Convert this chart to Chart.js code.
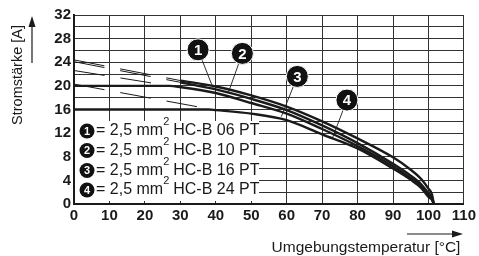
<!DOCTYPE html>
<html lang="de">
<head>
<meta charset="UTF-8">
<title>Derating</title>
<script src="https://cdn.jsdelivr.net/npm/chart.js"></script>
<style>
    body { margin: 0; background: #fff; }
    .chart-container { width: 479px; height: 256px; position: relative; }
</style>
</head>
<body>
<div class="chart-container">
    <canvas id="deratingChart"></canvas>
</div>
<script>
    // solid derating curves (temperature in °C, current in A)
    const curveX = [30, 40, 50, 60, 70, 80, 90, 95, 98, 100, 101, 101.5];
    const curve1 = [20.9, 19.9, 18.4, 16.5, 14.0, 11.1, 7.9, 5.8, 4.2, 2.6, 1.6, 0];
    const curve2 = [20.6, 19.4, 17.8, 15.9, 13.3, 10.3, 6.8, 4.8, 3.3, 1.8, 1.1, 0];
    const curve3X = [0, 27, 30, 40, 50, 60, 70, 80, 90, 95, 98, 100, 101, 101.5];
    const curve3 = [20, 20, 19.8, 18.8, 17.1, 15.3, 12.7, 9.8, 6.4, 4.4, 3.0, 1.5, 0.9, 0];
    const curve4X = [0, 38, 40, 50, 60, 70, 80, 90, 95, 98, 100, 101, 101.5];
    const curve4 = [16, 16, 15.9, 15.3, 14.2, 11.8, 9.4, 6.0, 4.1, 2.7, 1.2, 0.7, 0];

    // dashed extensions on the left
    const dash12X = [0, 30];
    const dash1 = [24.4, 20.9];
    const dash2 = [24.1, 20.6];
    const dash3X = [0, 27];
    const dash3 = [22.6, 20.0];
    const dash4X = [0, 40];
    const dash4 = [20.3, 15.9];

    // numbered markers and their leader lines
    const markerX = [35, 47.5, 63, 77];
    const markerY = [26.1, 25.5, 21.6, 17.6];
    const leaderEndX = [39.2, 43.5, 58.5, 72.8];
    const leaderEndY = [19.7, 18.8, 14.8, 11.0];

    const legendPrefix = '= 2,5 mm';
    const legendLabels = ['HC-B 06 PT', 'HC-B 10 PT', 'HC-B 16 PT', 'HC-B 24 PT'];

    const xTitle = 'Umgebungstemperatur [°C]';
    const yTitle = 'Stromstärke [A]';

    const ink = '#1a1a1a';
    const fontFamily = '"Liberation Sans", Arial, Helvetica, sans-serif';

    const pts = (xs, ys) => xs.map((x, i) => ({ x: x, y: ys[i] }));

    function solid(xs, ys) {
        return {
            data: pts(xs, ys), borderColor: ink, borderWidth: 2.4,
            pointRadius: 0, cubicInterpolationMode: 'monotone', order: 2
        };
    }
    function dashed(xs, ys) {
        return {
            data: pts(xs, ys), borderColor: ink, borderWidth: 1,
            borderDash: [31, 16], pointRadius: 0, order: 3
        };
    }

    const datasets = [
        solid(curveX, curve1), solid(curveX, curve2),
        solid(curve3X, curve3), solid(curve4X, curve4),
        dashed(dash12X, dash1), dashed(dash12X, dash2),
        dashed(dash3X, dash3), dashed(dash4X, dash4)
    ];
    markerX.forEach((x, i) => {
        datasets.push({
            data: [{ x: x, y: markerY[i] }, { x: leaderEndX[i], y: leaderEndY[i] }],
            borderColor: ink, borderWidth: 0.9, pointRadius: 0, order: 1
        });
    });
    datasets.push({
        type: 'scatter',
        data: pts(markerX, markerY),
        pointRadius: 11, pointBackgroundColor: '#111', pointBorderColor: '#fff',
        pointBorderWidth: 1, order: 0
    });

    const overlay = {
        id: 'overlay',
        afterDatasetsDraw(chart) {
            const ctx = chart.ctx;
            const xs = chart.scales.x, ys = chart.scales.y;
            ctx.save();

            // numbers in the markers
            ctx.fillStyle = '#fff';
            ctx.font = 'bold 15px ' + fontFamily;
            ctx.textAlign = 'center';
            ctx.textBaseline = 'middle';
            markerX.forEach((x, i) => {
                ctx.fillText(String(i + 1), xs.getPixelForValue(x), ys.getPixelForValue(markerY[i]) + 1);
            });

            // legend box inside the plot
            ctx.fillStyle = '#fff';
            ctx.fillRect(75, 121, 184, 80);
            const rowY = [131, 150.5, 170.5, 190];
            legendLabels.forEach((lab, i) => {
                const y = rowY[i];
                ctx.fillStyle = '#111';
                ctx.beginPath();
                ctx.arc(87, y, 7.5, 0, Math.PI * 2);
                ctx.fill();
                ctx.fillStyle = '#fff';
                ctx.font = 'bold 11px ' + fontFamily;
                ctx.textAlign = 'center';
                ctx.fillText(String(i + 1), 87, y + 0.5);

                ctx.fillStyle = ink;
                ctx.textAlign = 'left';
                ctx.font = '16px ' + fontFamily;
                let x = 96;
                ctx.fillText(legendPrefix, x, y);
                x += ctx.measureText(legendPrefix).width;
                ctx.font = '11px ' + fontFamily;
                ctx.fillText('2', x, y - 9);
                x += ctx.measureText('2').width + 4;
                ctx.font = '16px ' + fontFamily;
                ctx.fillText(lab, x, y);
            });
            ctx.restore();
        },
        afterDraw(chart) {
            const ctx = chart.ctx;
            ctx.save();
            ctx.fillStyle = ink;
            ctx.strokeStyle = ink;

            // y title with arrow
            ctx.font = '14.5px ' + fontFamily;
            ctx.textAlign = 'center';
            ctx.textBaseline = 'middle';
            ctx.save();
            ctx.translate(18, 75);
            ctx.rotate(-Math.PI / 2);
            ctx.fillText(yTitle, 0, 0);
            ctx.restore();
            ctx.lineWidth = 1.2;
            ctx.beginPath();
            ctx.moveTo(32, 63);
            ctx.lineTo(32, 24);
            ctx.stroke();
            ctx.beginPath();
            ctx.moveTo(32, 16);
            ctx.lineTo(28.5, 27);
            ctx.lineTo(35.5, 27);
            ctx.closePath();
            ctx.fill();

            // x title with arrow
            ctx.font = '15.5px ' + fontFamily;
            ctx.fillText(xTitle, 366, 248);
            ctx.beginPath();
            ctx.moveTo(407, 234);
            ctx.lineTo(455, 234);
            ctx.stroke();
            ctx.beginPath();
            ctx.moveTo(463, 234);
            ctx.lineTo(452, 230.5);
            ctx.lineTo(452, 237.5);
            ctx.closePath();
            ctx.fill();
            ctx.restore();
        }
    };

    const tickFont = { family: fontFamily, size: 15, weight: 'bold' };

    new Chart(document.getElementById('deratingChart').getContext('2d'), {
        type: 'line',
        data: { datasets: datasets },
        options: {
            responsive: true,
            maintainAspectRatio: false,
            animation: false,
            layout: { padding: { top: 15, right: 14, left: 0, bottom: 0 } },
            plugins: { legend: { display: false }, tooltip: { enabled: false } },
            scales: {
                x: {
                    type: 'linear', min: 0, max: 110,
                    ticks: { stepSize: 10, autoSkip: false, maxRotation: 0, font: tickFont, color: ink, padding: 3 },
                    grid: { color: '#333', lineWidth: 1, drawTicks: false },
                    border: { color: ink, width: 2 },
                    afterFit: s => { s.height = 52; }
                },
                y: {
                    min: 0, max: 32,
                    ticks: {
                        stepSize: 2, autoSkip: false, font: tickFont, color: ink, padding: 3,
                        callback: v => (v % 4 === 0 ? v : '')
                    },
                    grid: { color: '#333', lineWidth: 1, drawTicks: false },
                    border: { color: ink, width: 2 },
                    afterFit: s => { s.width = 74; }
                }
            }
        },
        plugins: [overlay]
    });
</script>
</body>
</html>
